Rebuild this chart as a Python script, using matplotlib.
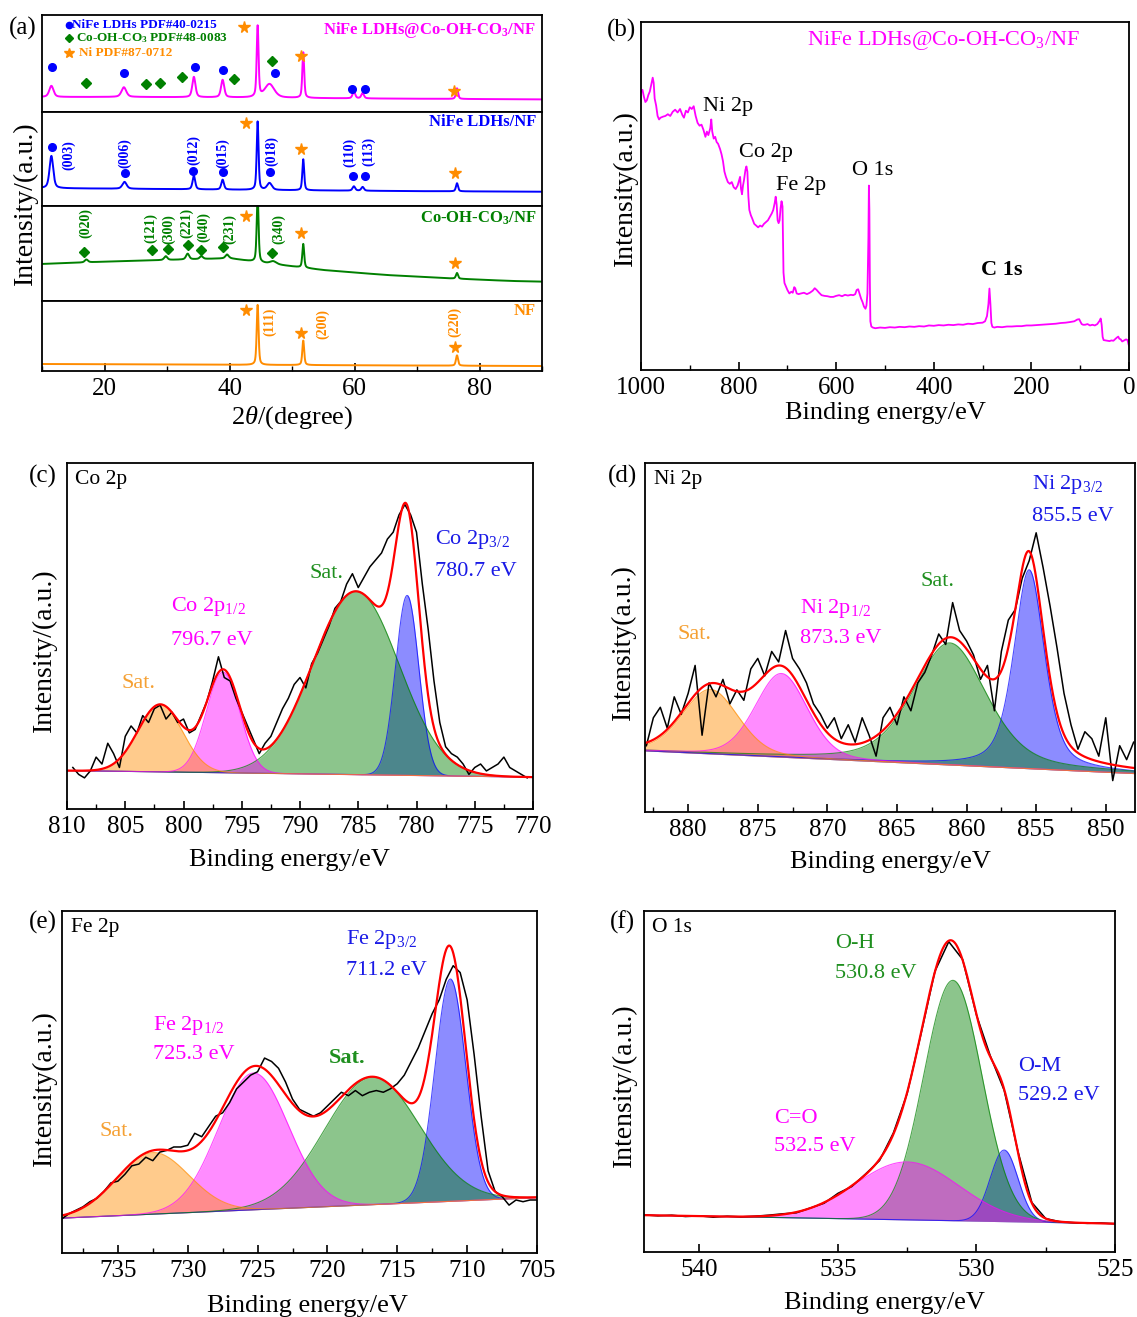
import numpy as np
import matplotlib
matplotlib.use("Agg")
from matplotlib import pyplot as plt
from matplotlib.ticker import MultipleLocator

plt.rcParams['font.family'] = ['Liberation Serif', 'DejaVu Serif']
plt.rcParams['mathtext.fontset'] = 'custom'
plt.rcParams['mathtext.rm'] = 'Liberation Serif'
plt.rcParams['mathtext.it'] = 'Liberation Serif:italic'
plt.rcParams['mathtext.bf'] = 'Liberation Serif:bold'

W, H = 1137, 1317
MAG = '#ff00ff'
BLU = '#0000ff'
GRN = '#008000'
ORA = '#ff8c00'

# ---------------- (a) XRD: baselines (2theta, level) and peaks (pos, height, fwhm)
xrd_names = ['NiFe LDHs@Co-OH-CO$_\\mathbf{3}$/NF', 'NiFe LDHs/NF', 'Co-OH-CO$_\\mathbf{3}$/NF', 'NF']
xrd_colors = [MAG, BLU, GRN, ORA]

het_base_tt = [10, 25, 40, 60, 90]
het_base = [15.5, 15.5, 15.0, 14.0, 13.0]
het_peaks = [(11.5, 11.5, 0.8), (23.1, 10, 0.9), (34.3, 21, 0.6), (38.9, 18, 0.6),
             (44.5, 73, 0.35), (46.4, 14, 1.8), (51.8, 47, 0.35), (59.9, 7, 0.5),
             (61.3, 5.5, 0.5), (76.4, 11, 0.4)]

ldh_base_tt = [10, 30, 50, 70, 90]
ldh_base = [19.0, 18.0, 16.8, 15.8, 15.2]
ldh_peaks = [(11.5, 34.4, 0.7), (23.2, 7.3, 0.8), (34.3, 14.4, 0.5), (38.9, 10.5, 0.5),
             (44.5, 72.7, 0.35), (46.4, 7.3, 0.9), (51.8, 33, 0.35), (59.9, 4.6, 0.5),
             (61.3, 4.0, 0.5), (76.4, 8.6, 0.4)]

coh_base_tt = [10, 20, 30, 40, 46, 55, 65, 75, 85, 90]
coh_base = [39, 41.4, 43.2, 45, 39.6, 32.6, 27.4, 23.9, 21.1, 20.4]
coh_peaks = [(17.1, 3, 0.6), (29.8, 4, 0.6), (33.3, 6, 0.6), (35.5, 3, 0.6), (39.6, 4, 0.6),
             (44.5, 70, 0.35), (47.0, 3, 1.2), (51.8, 25, 0.35), (76.4, 6, 0.4)]

nf_base_tt = [10, 90]
nf_base = [10.0, 7.1]
nf_peaks = [(44.5, 85.7, 0.35), (51.8, 35, 0.35), (76.4, 14.8, 0.4)]

# markers (2theta, level) per subpanel
circles = [[(11.6, 46.1), (23.1, 39.9), (34.4, 46.7), (38.9, 43.3), (47.2, 39.9), (59.6, 23.7), (61.6, 23.7)],
           [(11.6, 62.4), (23.3, 34.8), (34.2, 37.6), (38.9, 36.5), (46.5, 36.5), (59.8, 32.3), (61.6, 32.0)],
           [], []]
diamonds = [[(17.0, 30.2), (26.7, 28.9), (28.9, 30.2), (32.4, 35.7), (40.7, 33.7), (46.8, 52.6)],
            [],
            [(16.7, 51.9), (27.6, 53.7), (30.2, 54.7), (33.3, 58.6), (35.4, 53.7), (38.9, 57.2), (46.8, 50.2)],
            []]
stars = [[(42.3, 87.3), (51.4, 57.7), (75.9, 22.0)],
         [(42.7, 88.7), (51.5, 60.3), (76.0, 34.8)],
         [(42.7, 89.5), (51.5, 71.2), (76.1, 39.6)],
         [(42.7, 87.0), (51.5, 53.8), (76.1, 34.8)]]
hkl = [[],
       [('(003)', 14.2, 54.3), ('(006)', 23.2, 56), ('(012)', 34.3, 59.6), ('(015)', 38.9, 56),
        ('(018)', 46.7, 58.9), ('(110)', 59.3, 57.1), ('(113)', 62.2, 57.8)],
       [('(020)', 17.0, 81.8), ('(121)', 27.4, 76.5), ('(300)', 30.2, 76), ('(221)', 33.1, 81.8),
        ('(040)', 35.9, 77.5), ('(231)', 40.1, 76), ('(340)', 47.8, 76)],
       [('(111)', 46.5, 70.5), ('(200)', 54.9, 67), ('(220)', 76.1, 69.5)]]

# ---------------- (b) survey spectrum (binding energy, level)
survey = np.array([
    (1000, 80.0), (997, 80.5), (994, 78.5), (991, 77.0), (988, 77.5), (985, 79.0), (982, 80.0),
    (979, 82.0), (976, 84.0), (974, 82.5), (972, 78.0), (969, 76.0), (966, 73.0), (963, 72.0),
    (960, 72.5), (955, 72.8), (950, 73.0), (945, 73.5), (940, 73.0), (935, 74.2), (930, 74.8),
    (925, 74.0), (920, 75.0), (915, 73.2), (912, 72.5), (908, 74.5), (904, 74.0), (900, 75.5),
    (896, 75.0), (892, 75.8), (888, 73.0), (884, 71.0), (880, 70.2), (876, 70.5), (872, 69.0),
    (868, 67.0), (865, 68.5), (862, 67.5), (858, 69.5), (856, 72.0), (854, 68.5), (851, 66.5),
    (848, 67.0), (845, 65.5), (842, 65.0), (838, 63.5), (835, 62.0), (832, 60.0), (829, 57.0),
    (826, 55.5), (822, 54.0), (818, 53.5), (814, 54.0), (810, 52.5), (806, 52.0), (802, 53.0),
    (799, 54.5), (797, 55.5), (795, 52.0), (793, 50.5), (791, 53.0), (789, 54.5), (786, 57.5),
    (784, 58.5), (782, 57.0), (780, 50.0), (778, 46.0), (775, 44.5), (772, 43.5), (768, 42.0),
    (764, 41.5), (760, 41.0), (756, 41.5), (752, 41.2), (748, 42.0), (744, 42.5), (740, 43.0),
    (736, 44.0), (732, 45.0), (729, 46.0), (726, 48.0), (724, 49.8), (722, 47.5), (720, 43.0),
    (718, 42.2), (716, 43.0), (714, 46.5), (712, 48.5), (710, 47.0), (709, 38.0), (708, 28.0),
    (706, 25.0), (703, 24.0), (700, 23.0), (696, 22.0), (692, 22.5), (689, 22.2), (686, 23.8),
    (684, 23.5), (681, 22.0), (677, 21.8), (672, 22.0), (666, 22.2), (660, 21.8), (654, 22.2),
    (648, 22.8), (644, 23.5), (640, 23.0), (635, 22.2), (630, 21.5), (624, 21.3), (618, 21.2),
    (612, 21.0), (606, 21.0), (600, 21.3), (594, 21.5), (588, 21.2), (582, 21.6), (576, 21.4),
    (570, 21.6), (565, 21.5), (561, 21.8), (558, 23.0), (555, 23.2), (552, 21.8), (549, 20.5),
    (546, 19.5), (543, 18.2), (540, 17.6), (538, 18.5), (536, 22.0), (534, 38.0), (533, 53.0),
    (532, 46.0), (531, 25.0), (530, 14.0), (528, 12.5), (525, 12.2), (520, 12.0), (510, 12.2),
    (500, 12.1), (490, 12.3), (480, 12.2), (470, 12.4), (460, 12.3), (450, 12.5), (440, 12.4),
    (430, 12.6), (420, 12.5), (410, 12.8), (400, 12.7), (390, 12.9), (380, 12.8), (370, 13.0),
    (360, 12.9), (350, 13.1), (340, 13.0), (330, 13.3), (320, 13.2), (310, 13.5), (300, 13.6),
    (295, 14.0), (291, 15.5), (288, 19.0), (286, 23.4), (284, 19.0), (282, 13.5), (280, 12.4),
    (276, 12.2), (270, 12.4), (260, 12.3), (250, 12.5), (240, 12.5), (230, 12.6), (220, 12.6),
    (210, 12.8), (200, 12.8), (190, 12.9), (180, 13.0), (170, 13.1), (160, 13.2), (150, 13.3),
    (140, 13.5), (130, 13.6), (120, 13.8), (112, 14.0), (106, 14.5), (102, 14.6), (100, 14.0),
    (97, 13.2), (94, 13.0), (90, 13.0), (85, 13.2), (80, 12.8), (75, 13.0), (70, 12.8),
    (65, 13.2), (62, 13.8), (60, 14.2), (58, 14.8), (56, 13.0), (54, 9.5), (52, 8.6),
    (48, 8.5), (44, 8.4), (40, 8.3), (36, 8.5), (32, 8.4), (28, 8.9), (25, 9.3), (22, 9.6),
    (20, 9.0), (17, 8.8), (14, 8.2), (10, 8.5), (6, 8.8), (3, 8.6), (1, 7.4), (0, 7.0)])

# ---------------- XPS high-resolution: raw counts on even grids, background, fitted peaks
co_raw_range = (809.5, 770.5)
co_raw = [12, 10, 9, 11, 15, 13, 19, 16, 12, 21,
          24, 22, 27, 25, 29, 30, 26, 28, 25, 26,
          22, 23, 27, 31, 37, 44, 38, 37, 32, 28,
          24, 20, 16, 19, 21, 25, 29, 32, 36, 38,
          35, 42, 45, 49, 53, 58, 60, 65, 68, 64,
          67, 70, 72, 74, 78, 80, 85, 88, 85, 80,
          65, 52, 37, 25, 18, 16, 15, 13, 10, 12,
          13, 11, 12, 13, 15, 12, 11, 10, 9]
co_bg = ([770, 810], [9.2, 11.1])
co_fit = [(BLU, 780.8, 52.0, 2.35, 0.0), (GRN, 785.2, 53.0, 8.7, 0.0),
          (MAG, 796.6, 29.1, 3.4, 0.0), (ORA, 802.0, 19.5, 4.5, 0.0)]

ni_raw_range = (883.0, 848.0)
ni_raw = [19, 27, 30, 24, 33, 28, 34, 42, 22, 37,
          33, 38, 31, 35, 32, 41, 44, 39, 46, 43,
          52, 44, 41, 37, 31, 28, 24, 27, 21, 25,
          20, 27, 22, 16, 27, 30, 25, 33, 29, 37,
          40, 45, 51, 48, 60, 52, 49, 45, 38, 42,
          29, 46, 55, 58, 67, 72, 80, 70, 59, 47,
          34, 25, 18, 23, 21, 16, 27, 9, 19, 15,
          20]
ni_bg = ([848, 883.1], [11.0, 17.5])
ni_fit = [(BLU, 855.5, 57, 2.6, 0.5), (GRN, 861.2, 35, 6.2, 0.4),
          (MAG, 873.3, 24, 4.4, 0.2), (ORA, 878.4, 18.5, 4.7, 0.2)]

fe_raw_range = (739.0, 705.0)
fe_raw = [10, 11.5, 12.5, 13.5, 15, 16, 18, 20.5, 21, 23,
          25.5, 26, 28, 27, 29.5, 30, 31, 31, 31.5, 35,
          34, 37, 40, 41, 44, 48, 50, 52, 53, 57,
          56, 54, 50, 45, 42, 41, 40, 41, 43, 45,
          47, 46, 47.5, 46, 47, 47.5, 47, 48, 49.5, 52,
          56, 60, 65, 70, 74, 80, 84, 82, 74, 58,
          40, 24, 18, 16.5, 14, 15.5, 15, 15.5, 15.5]
fe_bg = ([705, 739], [16.2, 10.2])
fe_fit = [(BLU, 711.2, 65, 2.6, 0.0), (GRN, 716.8, 37.3, 8.0, 0.0),
          (MAG, 725.3, 40, 5.9, 0.0), (ORA, 732.5, 18, 6.1, 0.0)]

o_raw_range = (542.0, 525.0)
o_raw = [10.9, 10.6, 10.8, 10.4, 10.6, 10.2, 10.5, 10.3, 10.5, 10.8,
         11.2, 11.5, 12.9, 14.3, 17.2, 19.2, 22.9, 26.8, 34.9, 46.5,
         64.0, 82.3, 91.0, 85.8, 69.5, 57.5, 47.4, 29.4, 14.5, 9.8,
         8.9, 8.6, 8.4, 8.5, 8.3]
o_bg = ([525, 542], [8.3, 10.8])
o_fit = [(BLU, 529.0, 21, 1.18, 0.0), (GRN, 530.85, 70.5, 2.47, 0.0), (MAG, 532.5, 17, 4.4, 0.0)]

TXT_ORA = '#f5a033'
TXT_GRN = '#1f8f1f'
TXT_BLU = '#1a1ae6'


def box(x0, y0, x1, y1):
    return [x0 / W, 1 - y1 / H, (x1 - x0) / W, (y1 - y0) / H]


def pvoigt(x, c, h, fwhm, eta):
    d = (x - c) / fwhm
    return h * (eta / (1 + 4 * d ** 2) + (1 - eta) * np.exp(-4 * np.log(2) * d ** 2))


def style(ax, lw=1.3):
    for s in ax.spines.values():
        s.set_linewidth(lw)
    ax.set_yticks([])
    ax.tick_params(axis='x', which='both', direction='in', top=False, labelsize=18, pad=5)
    ax.tick_params(axis='x', which='major', length=6, width=1.2)
    ax.tick_params(axis='x', which='minor', length=3.5, width=1.0)


fig = plt.figure(figsize=(W / 100, H / 100), dpi=100)

# ---------------- (a)
tt = np.linspace(10, 90, 3201)
xrd_sets = [(het_base_tt, het_base, het_peaks), (ldh_base_tt, ldh_base, ldh_peaks),
            (coh_base_tt, coh_base, coh_peaks), (nf_base_tt, nf_base, nf_peaks)]
rows = [(15, 112), (112, 206), (206, 301), (301, 371)]
title_y = [0.845, 0.897, 0.87, 0.861]
for i, (y0, y1) in enumerate(rows):
    ax = fig.add_axes(box(42, y0, 542, y1))
    style(ax)
    bt, bv, pk = xrd_sets[i]
    curve = np.interp(tt, bt, bv)
    for p, h, w in pk:
        curve = curve + pvoigt(tt, p, h, w, 0.5)
    ax.plot(tt, curve, color=xrd_colors[i], lw=1.4)
    for x, y in circles[i]:
        ax.plot(x, y, 'o', color=BLU, ms=5.5)
    for x, y in diamonds[i]:
        ax.plot(x, y, 'D', color=GRN, ms=5)
    for x, y in stars[i]:
        ax.plot(x, y, '*', color=ORA, ms=8.5)
    for t, x, y in hkl[i]:
        ax.text(x, y, t, rotation=90, ha='center', va='center', color=xrd_colors[i],
                fontsize=10, fontweight='bold')
    ax.text(0.988, title_y[i], xrd_names[i], transform=ax.transAxes, ha='right', va='center',
            color=xrd_colors[i], fontsize=12, fontweight='bold')
    ax.set_xlim(10, 90)
    ax.set_ylim(0, 100)
    if i < 3:
        ax.tick_params(axis='x', which='both', bottom=False, labelbottom=False)
    else:
        ax.xaxis.set_major_locator(MultipleLocator(20))
        ax.xaxis.set_minor_locator(MultipleLocator(10))
    if i == 0:
        ax.plot(0.054, 0.897, 'o', color=BLU, ms=4.5, transform=ax.transAxes)
        ax.text(0.061, 0.897, 'NiFe LDHs PDF#40-0215', transform=ax.transAxes, va='center',
                color=BLU, fontsize=9.5, fontweight='bold')
        ax.plot(0.053, 0.76, 'D', color=GRN, ms=4.5, transform=ax.transAxes)
        ax.text(0.069, 0.76, 'Co-OH-CO$_\\mathbf{3}$ PDF#48-0083', transform=ax.transAxes,
                va='center', color=GRN, fontsize=9.5, fontweight='bold')
        ax.plot(0.053, 0.611, '*', color=ORA, ms=7, transform=ax.transAxes)
        ax.text(0.074, 0.611, 'Ni PDF#87-0712', transform=ax.transAxes, va='center',
                color=ORA, fontsize=9.5, fontweight='bold')

fig.text(25 / W, 1 - 203 / H, 'Intensity/(a.u.)', rotation=90, ha='center', va='center', fontsize=20)
fig.text(292 / W, 1 - 418 / H, '2$\\theta$/(degree)', ha='center', va='center', fontsize=19)

# ---------------- (b)
ax = fig.add_axes(box(641, 22, 1129, 370))
style(ax)
ax.plot(survey[:, 0], survey[:, 1], color=MAG, lw=1.3)
ax.set_xlim(1000, 0)
ax.set_ylim(0, 100)
ax.xaxis.set_major_locator(MultipleLocator(200))
ax.xaxis.set_minor_locator(MultipleLocator(100))
ax.text(0.62, 0.948, 'NiFe LDHs@Co-OH-CO$_3$/NF', transform=ax.transAxes, ha='center', va='center',
        color=MAG, fontsize=16)
for t, x, y, wgt in [('Ni 2p', 873, 75.6, 'normal'), ('Co 2p', 799, 62.4, 'normal'),
                     ('Fe 2p', 723, 52.9, 'normal'), ('O 1s', 567, 57.2, 'normal'),
                     ('C 1s', 303, 28.7, 'bold')]:
    ax.text(x, y, t, ha='left', va='center', fontsize=16, fontweight=wgt)
fig.text(625 / W, 1 - 188 / H, 'Intensity(a.u.)', rotation=90, ha='center', va='center', fontsize=20)
fig.text(885 / W, 1 - 413 / H, 'Binding energy/eV', ha='center', va='center', fontsize=19)


# ---------------- XPS panels
def xps(rect, xlim, raw_range, raw, bg, fit, texts, corner, ylab, ylab_xy, xlab_xy):
    ax = fig.add_axes(box(*rect))
    style(ax)
    e = np.linspace(xlim[0], xlim[1], 1200)
    base = np.interp(e, bg[0], bg[1])
    total = base.copy()
    for col, c, h, w, eta in fit:
        comp = pvoigt(e, c, h, w, eta)
        total = total + comp
        ax.fill_between(e, base, base + comp, color=col, alpha=0.45, lw=0)
        ax.plot(e, base + comp, color=col, lw=0.8, alpha=0.7)
    raw_e = np.linspace(raw_range[0], raw_range[1], len(raw))
    ax.plot(raw_e, raw, color='black', lw=1.1)
    ax.plot(e, total, color='#ff0000', lw=1.6)
    for t, x, y, col, wgt in texts:
        ax.text(x, y, t, color=col, fontsize=16, ha='left', va='center', fontweight=wgt)
    ax.text(0.018, 0.952, corner, transform=ax.transAxes, ha='left', va='center', fontsize=15.5)
    ax.set_xlim(*xlim)
    ax.set_ylim(0, 100)
    ax.xaxis.set_major_locator(MultipleLocator(5))
    ax.xaxis.set_minor_locator(MultipleLocator(2.5))
    fig.text(ylab_xy[0] / W, 1 - ylab_xy[1] / H, ylab, rotation=90, ha='center', va='center', fontsize=20)
    fig.text(xlab_xy[0] / W, 1 - xlab_xy[1] / H, 'Binding energy/eV', ha='center', va='center', fontsize=19)
    return ax


xps((67, 463, 533, 809), (810, 770), co_raw_range, co_raw, co_bg, co_fit,
    [('Sat.', 805.3, 36.2, TXT_ORA, 'normal'),
     ('Co 2p$_{1/2}$', 801.1, 58.5, MAG, 'normal'), ('796.7 eV', 801.1, 48.8, MAG, 'normal'),
     ('Sat.', 789.2, 68.1, TXT_GRN, 'normal'),
     ('Co 2p$_{3/2}$', 778.4, 77.8, TXT_BLU, 'normal'), ('780.7 eV', 778.4, 68.6, TXT_BLU, 'normal')],
    'Co 2p', 'Intensity/(a.u.)', (44, 650), (289, 860))

xps((645, 463, 1135, 812), (883.1, 847.9), ni_raw_range, ni_raw, ni_bg, ni_fit,
    [('Sat.', 880.8, 50.9, TXT_ORA, 'normal'),
     ('Ni 2p$_{1/2}$', 872.0, 58.3, MAG, 'normal'), ('873.3 eV', 872.0, 49.8, MAG, 'normal'),
     ('Sat.', 863.3, 66.1, TXT_GRN, 'normal'),
     ('Ni 2p$_{3/2}$', 855.3, 93.8, TXT_BLU, 'normal'), ('855.5 eV', 855.3, 84.8, TXT_BLU, 'normal')],
    'Ni 2p', 'Intensity(a.u.)', (623, 642), (890, 862))

xps((62, 911, 537, 1253), (739, 705), fe_raw_range, fe_raw, fe_bg, fe_fit,
    [('Sat.', 736.3, 35.5, TXT_ORA, 'normal'),
     ('Fe 2p$_{1/2}$', 732.5, 66.6, MAG, 'normal'), ('725.3 eV', 732.5, 57.9, MAG, 'normal'),
     ('Sat.', 719.9, 56.9, TXT_GRN, 'bold'),
     ('Fe 2p$_{3/2}$', 718.7, 91.6, TXT_BLU, 'normal'), ('711.2 eV', 718.7, 82.7, TXT_BLU, 'normal')],
    'Fe 2p', 'Intensity(a.u.)', (44, 1088), (307, 1306))

xps((644, 911, 1115, 1252), (542, 525), o_raw_range, o_raw, o_bg, o_fit,
    [('O-H', 535.1, 90.4, TXT_GRN, 'normal'), ('530.8 eV', 535.1, 81.8, TXT_GRN, 'normal'),
     ('O-M', 528.5, 54.4, TXT_BLU, 'normal'), ('529.2 eV', 528.5, 45.9, TXT_BLU, 'normal'),
     ('C=O', 537.3, 39.1, MAG, 'normal'), ('532.5 eV', 537.3, 30.8, MAG, 'normal')],
    'O 1s', 'Intensity/(a.u.)', (624, 1085), (884, 1303))

for t, x, y in [('(a)', 23, 28), ('(b)', 621, 30), ('(c)', 43, 476),
                ('(d)', 622, 476), ('(e)', 43, 922), ('(f)', 622, 922)]:
    fig.text(x / W, 1 - y / H, t, ha='center', va='center', fontsize=18)

fig.savefig('out.png', dpi=100)
